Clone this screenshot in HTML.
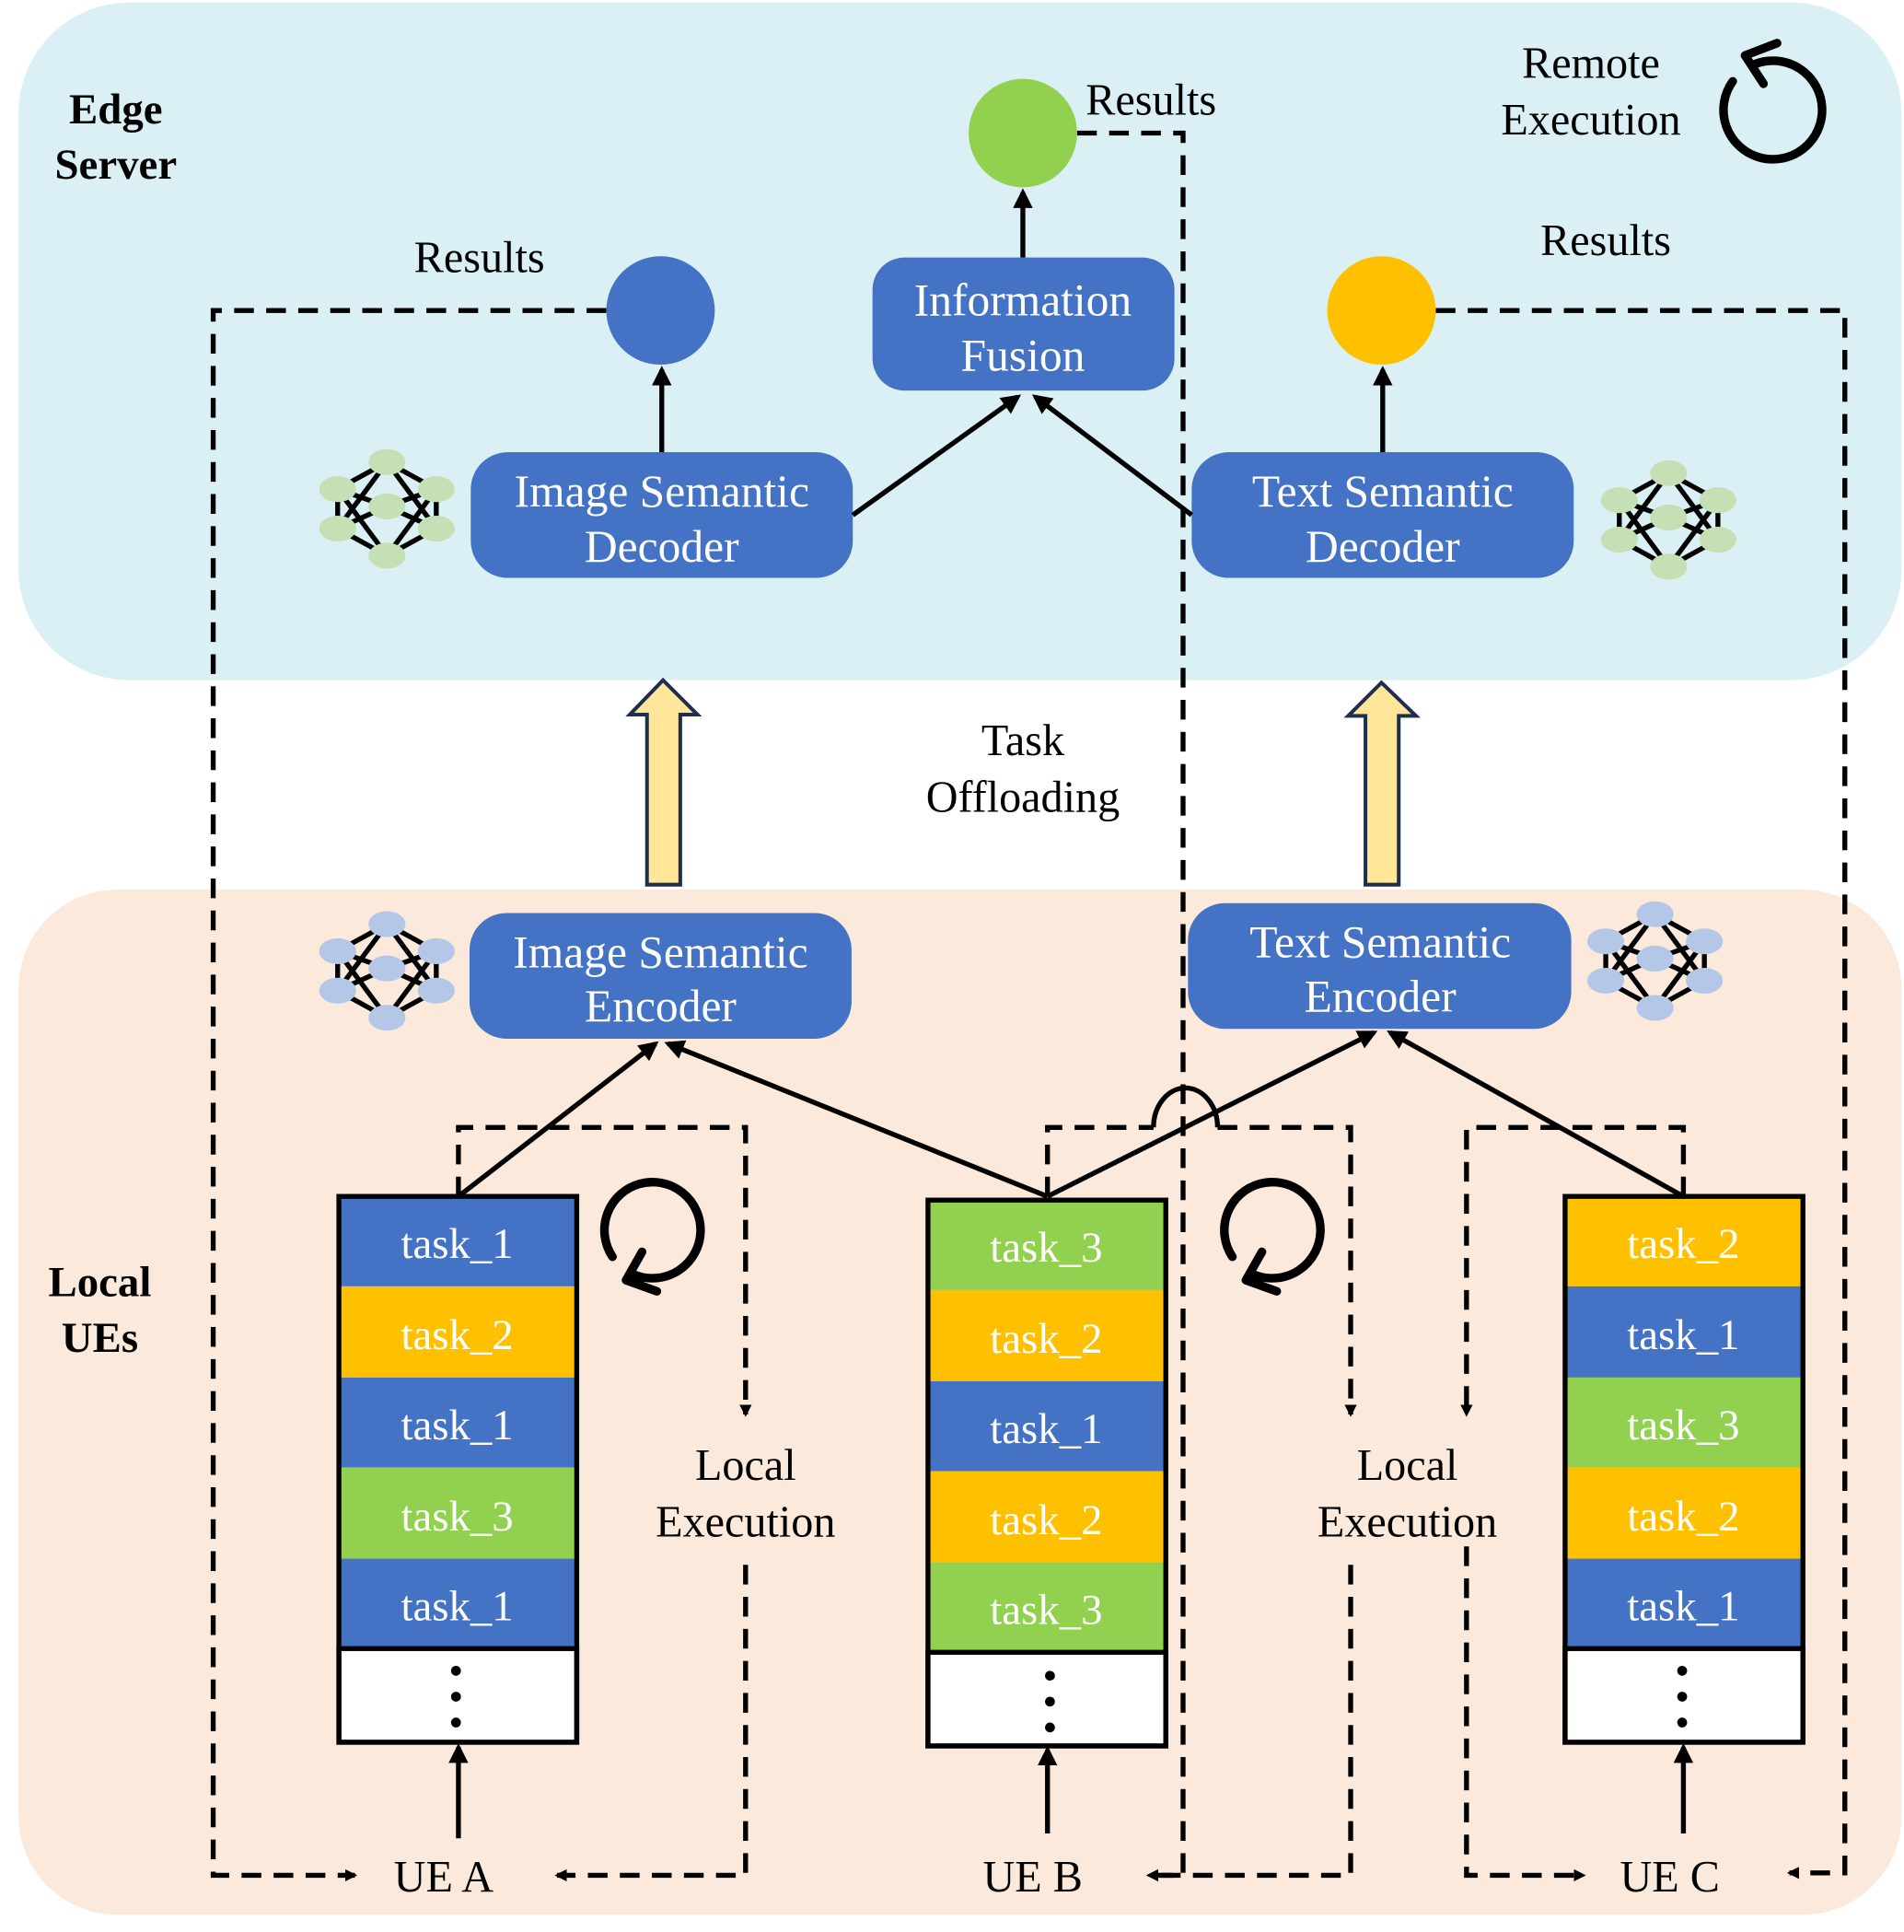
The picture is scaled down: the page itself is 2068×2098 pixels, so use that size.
<!DOCTYPE html>
<html><head><meta charset="utf-8"><style>html,body{margin:0;padding:0;background:#fff}svg{display:block}</style></head><body>
<svg width="2068" height="2098" viewBox="0 0 1545 1568" preserveAspectRatio="none" xmlns="http://www.w3.org/2000/svg" font-family="'Liberation Serif',serif">
<defs>
<marker id="ah" markerWidth="10" markerHeight="10" refX="8" refY="5" orient="auto" markerUnits="userSpaceOnUse"><path d="M0,0 L10,5 L0,10 Z" fill="#000"/></marker>
<marker id="ah2" viewBox="0 0 10 10" markerWidth="16" markerHeight="16" refX="8" refY="5" orient="auto" markerUnits="userSpaceOnUse"><path d="M0,0 L10,5 L0,10 Z" fill="#000"/></marker>
<g id="nnl" stroke="#000" stroke-width="4" fill="none">
<path d="M-40,-16 L0,-38 M-40,-16 L0,38 M-40,16 L0,-38 M-40,16 L0,38 M-40,-16 L0,-2 M-40,16 L0,-2 M-40,-16 V16 M40,-16 L0,-38 M40,-16 L0,38 M40,16 L0,-38 M40,16 L0,38 M40,-16 L0,-2 M40,16 L0,-2 M40,-16 V16"/>
</g>
<g id="nnn">
<ellipse cx="-40" cy="-16" rx="15" ry="10.5"/><ellipse cx="-40" cy="16" rx="15" ry="10.5"/><ellipse cx="0" cy="-38" rx="15" ry="10.5"/><ellipse cx="0" cy="-2" rx="15" ry="10.5"/><ellipse cx="0" cy="38" rx="15" ry="10.5"/><ellipse cx="40" cy="-16" rx="15" ry="10.5"/><ellipse cx="40" cy="16" rx="15" ry="10.5"/>
</g>
</defs>
<rect x="15" y="2" width="1528" height="550" rx="90" fill="#daf0f4"/>
<rect x="15" y="722" width="1528" height="832" rx="80" fill="#fbeadb"/>
<g font-size="35" font-weight="bold" text-anchor="middle"><text x="94" y="100">Edge</text><text x="94" y="145">Server</text><text x="81" y="1052">Local</text><text x="81" y="1097">UEs</text></g>
<g font-size="36" text-anchor="middle">
<text x="1291" y="63">Remote</text><text x="1291" y="109">Execution</text>
<text x="934" y="93">Results</text><text x="389" y="221">Results</text><text x="1303" y="207">Results</text>
<text x="830" y="613">Task</text><text x="830" y="659">Offloading</text>
<text x="605" y="1201">Local</text><text x="605" y="1247">Execution</text>
<text x="1142" y="1201">Local</text><text x="1142" y="1247">Execution</text>
<text x="360" y="1535">UE A</text><text x="838" y="1535">UE B</text><text x="1355" y="1535">UE C</text>
</g>
<g fill="none" stroke="#000" stroke-width="4" stroke-dasharray="16,10">
<path d="M492,252 H173 V1522 H288" marker-end="url(#ah)"/>
<path d="M874,108 H960 V1522 H932" marker-end="url(#ah)"/>
<path d="M1165,252 H1497 V1520 H1452" marker-end="url(#ah)"/>
<path d="M372,971 V915 H605 V1148" marker-end="url(#ah)"/>
<path d="M605,1270 V1522 H452" marker-end="url(#ah)"/>
<path d="M850,971 V915 H936"/>
<path d="M988,915 H1096 V1148" marker-end="url(#ah)"/>
<path d="M1096,1270 V1522 H932" marker-end="url(#ah)"/>
<path d="M1366,971 V915 H1190 V1148" marker-end="url(#ah)"/>
<path d="M1190,1255 V1522 H1285" marker-end="url(#ah)"/>
</g>
<path d="M936,915 A26,32 0 0 1 988,915" fill="none" stroke="#000" stroke-width="4"/>
<circle cx="830" cy="108" r="44" fill="#92d050"/>
<circle cx="536" cy="252" r="44" fill="#4472c4"/>
<circle cx="1121" cy="252" r="44" fill="#ffc000"/>
<g fill="#4472c4">
<rect x="708" y="209" width="245" height="108" rx="26"/>
<rect x="382" y="367" width="310" height="102" rx="30"/>
<rect x="967" y="367" width="310" height="102" rx="30"/>
<rect x="381" y="741" width="310" height="102" rx="30"/>
<rect x="964" y="733" width="311" height="102" rx="30"/>
</g>
<g font-size="37" fill="#fff" text-anchor="middle">
<text x="830" y="256">Information</text><text x="830" y="301">Fusion</text>
<text x="537" y="411">Image Semantic</text><text x="537" y="456">Decoder</text>
<text x="1122" y="411">Text Semantic</text><text x="1122" y="456">Decoder</text>
<text x="536" y="785">Image Semantic</text><text x="536" y="829">Encoder</text>
<text x="1120" y="777">Text Semantic</text><text x="1120" y="821">Encoder</text>
</g>
<g stroke="#000" stroke-width="4" fill="none">
<path d="M537,367 V300" marker-end="url(#ah2)"/>
<path d="M1122,367 V300" marker-end="url(#ah2)"/>
<path d="M830,209 V156" marker-end="url(#ah2)"/>
<path d="M692,418 L826,322" marker-end="url(#ah2)"/>
<path d="M967,418 L840,322" marker-end="url(#ah2)"/>
<path d="M372,971 L532,847" marker-end="url(#ah2)"/>
<path d="M850,971 L542,847" marker-end="url(#ah2)"/>
<path d="M850,971 L1115,838" marker-end="url(#ah2)"/>
<path d="M1366,971 L1128,838" marker-end="url(#ah2)"/>
<path d="M372,1492 V1418" marker-end="url(#ah2)"/>
<path d="M850,1488 V1420" marker-end="url(#ah2)"/>
<path d="M1366,1488 V1418" marker-end="url(#ah2)"/>
</g>
<g fill="#ffe699" stroke="#1f2d4e" stroke-width="3">
<path d="M525,718 V580 H511 L538,552 L566,580 H552 V718 Z"/>
<path d="M1108,718 V581 H1094 L1121,554 L1149,581 H1135 V718 Z"/>
</g>
<g font-size="35" fill="#fff" text-anchor="middle">
<rect x="275" y="971" width="193" height="73" fill="#4472c4"/><text x="371" y="1021">task_1</text>
<rect x="275" y="1044" width="193" height="74" fill="#ffc000"/><text x="371" y="1095">task_2</text>
<rect x="275" y="1118" width="193" height="73" fill="#4472c4"/><text x="371" y="1168">task_1</text>
<rect x="275" y="1191" width="193" height="74" fill="#92d050"/><text x="371" y="1242">task_3</text>
<rect x="275" y="1265" width="193" height="73" fill="#4472c4"/><text x="371" y="1315">task_1</text>
<rect x="753" y="974" width="193" height="73" fill="#92d050"/><text x="849" y="1024">task_3</text>
<rect x="753" y="1047" width="193" height="74" fill="#ffc000"/><text x="849" y="1098">task_2</text>
<rect x="753" y="1121" width="193" height="73" fill="#4472c4"/><text x="849" y="1171">task_1</text>
<rect x="753" y="1194" width="193" height="74" fill="#ffc000"/><text x="849" y="1245">task_2</text>
<rect x="753" y="1268" width="193" height="73" fill="#92d050"/><text x="849" y="1318">task_3</text>
<rect x="1270" y="971" width="193" height="73" fill="#ffc000"/><text x="1366" y="1021">task_2</text>
<rect x="1270" y="1044" width="193" height="74" fill="#4472c4"/><text x="1366" y="1095">task_1</text>
<rect x="1270" y="1118" width="193" height="73" fill="#92d050"/><text x="1366" y="1168">task_3</text>
<rect x="1270" y="1191" width="193" height="74" fill="#ffc000"/><text x="1366" y="1242">task_2</text>
<rect x="1270" y="1265" width="193" height="73" fill="#4472c4"/><text x="1366" y="1315">task_1</text>
</g>
<g fill="#fff" stroke="#000" stroke-width="4">
<rect x="275" y="1338" width="193" height="76"/><rect x="753" y="1341" width="193" height="76"/><rect x="1270" y="1338" width="193" height="76"/>
</g>
<g fill="none" stroke="#000" stroke-width="4">
<rect x="275" y="971" width="193" height="443"/><rect x="753" y="974" width="193" height="443"/><rect x="1270" y="971" width="193" height="443"/>
</g>
<g fill="#000">
<circle cx="370" cy="1356" r="4"/><circle cx="370" cy="1377" r="4"/><circle cx="370" cy="1398" r="4"/>
<circle cx="852" cy="1360" r="4"/><circle cx="852" cy="1381" r="4"/><circle cx="852" cy="1402" r="4"/>
<circle cx="1365" cy="1356" r="4"/><circle cx="1365" cy="1377" r="4"/><circle cx="1365" cy="1398" r="4"/>
</g>
<g fill="none" stroke="#000" stroke-width="7" stroke-linecap="round" stroke-linejoin="round">
<path d="M1406,66 A40,40 0 1 0 1424,52"/>
<path d="M1442,35 L1416,45 L1431,68"/>
<path d="M497,1020 A39,39 0 1 1 516,1035"/>
<path d="M521,1016 L508,1039 L533,1048"/>
<path d="M1000,1020 A39,39 0 1 1 1019,1035"/>
<path d="M1024,1016 L1011,1039 L1036,1048"/>
</g>
<g transform="translate(314,413)"><use href="#nnl"/><use href="#nnn" fill="#c5e0b4"/></g>
<g transform="translate(1354,422)"><use href="#nnl"/><use href="#nnn" fill="#c5e0b4"/></g>
<g transform="translate(314,788)"><use href="#nnl"/><use href="#nnn" fill="#b4c7e7"/></g>
<g transform="translate(1343,780)"><use href="#nnl"/><use href="#nnn" fill="#b4c7e7"/></g>
</svg>
</body></html>
